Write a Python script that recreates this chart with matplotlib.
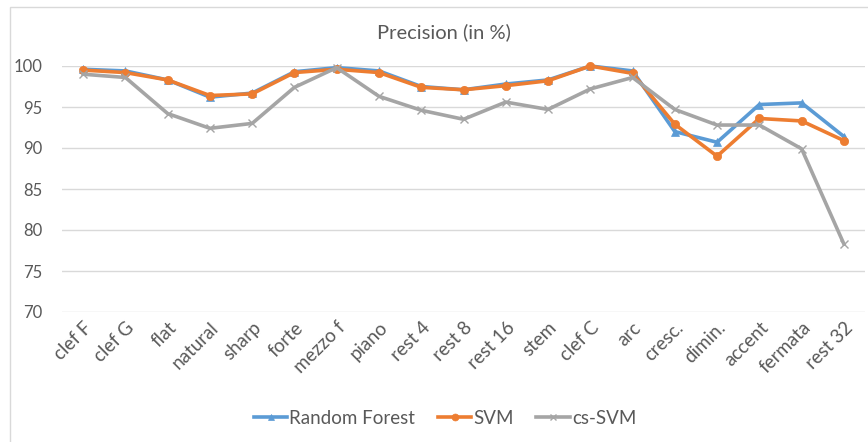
import matplotlib
matplotlib.use("Agg")
import matplotlib.pyplot as plt
from matplotlib.lines import Line2D
from matplotlib.patches import Rectangle

categories = ["clef F", "clef G", "flat", "natural", "sharp", "forte", "mezzo f",
              "piano", "rest 4", "rest 8", "rest 16", "stem", "clef C", "arc",
              "cresc.", "dimin.", "accent", "fermata", "rest 32"]

random_forest = [99.6, 99.4, 98.3, 96.2, 96.7, 99.3, 99.8, 99.4, 97.5, 97.1,
                 97.8, 98.3, 100.0, 99.4, 92.0, 90.7, 95.3, 95.5, 91.4]
svm = [99.5, 99.2, 98.3, 96.4, 96.6, 99.2, 99.6, 99.2, 97.4, 97.1,
       97.6, 98.2, 100.0, 99.1, 92.9, 89.0, 93.6, 93.3, 90.9]
cs_svm = [99.0, 98.6, 94.2, 92.4, 93.0, 97.4, 99.8, 96.3, 94.6, 93.5,
          95.6, 94.7, 97.2, 98.6, 94.7, 92.8, 92.8, 89.9, 78.3]

series_names = ["Random Forest", "SVM", "cs-SVM"]
colors = ["#5B9BD5", "#ED7D31", "#A5A5A5"]
markers = ["^", "o", "x"]
yticks = [70, 75, 80, 85, 90, 95, 100]

plt.rcParams['font.family'] = ['Lato', 'DejaVu Sans']
text_color = "#595959"

fig = plt.figure(figsize=(8.68, 4.42), dpi=100)
ax = fig.add_axes([62/868, 1 - 312/442, (865 - 62)/868, (312 - 66)/442])

x = list(range(len(categories)))
for vals, name, c, m in zip([random_forest, svm, cs_svm], series_names, colors, markers):
    ax.plot(x, vals, color=c, lw=2.6, marker=m, markersize=6,
            markeredgewidth=1.0 if m == "x" else 0.5, label=name, clip_on=False,
            solid_joinstyle="round")

ax.set_xlim(-0.5, len(categories) - 0.5)
ax.set_ylim(70, 100)
ax.set_yticks(yticks)
ax.set_yticklabels([str(t) for t in yticks], fontsize=12, color=text_color)
ax.set_xticks(x)
ax.set_xticklabels(categories, rotation=45, ha="right", rotation_mode="anchor",
                   fontsize=13.5, color=text_color)
ax.tick_params(axis="both", length=0)
ax.tick_params(axis="y", pad=14)
ax.tick_params(axis="x", pad=5)
ax.grid(axis="y", color="#D9D9D9", lw=1)
ax.set_axisbelow(True)
for s in ax.spines.values():
    s.set_visible(False)

fig.text(444/868, 1 - 32/442, "Precision (in %)", ha="center", va="center",
         fontsize=14.5, color=text_color)

handles = [Line2D([], [], color=c, lw=2.6, marker=m, markersize=5,
                  markeredgewidth=1.0 if m == "x" else 0.5)
           for c, m in zip(colors, markers)]
leg = fig.legend(handles, series_names, loc="center", bbox_to_anchor=(445/868, 1 - 418/442),
                 ncol=3, frameon=False, fontsize=13.5, handlelength=1.8,
                 handletextpad=0.1, columnspacing=1.2, labelcolor=text_color)

# figure border
fig.patches.append(Rectangle((10/868, -0.05), 1.0, 1 - 7/442 + 0.05, transform=fig.transFigure,
                             fill=False, edgecolor="#D9D9D9", lw=1))

fig.savefig("out.png", dpi=100)
